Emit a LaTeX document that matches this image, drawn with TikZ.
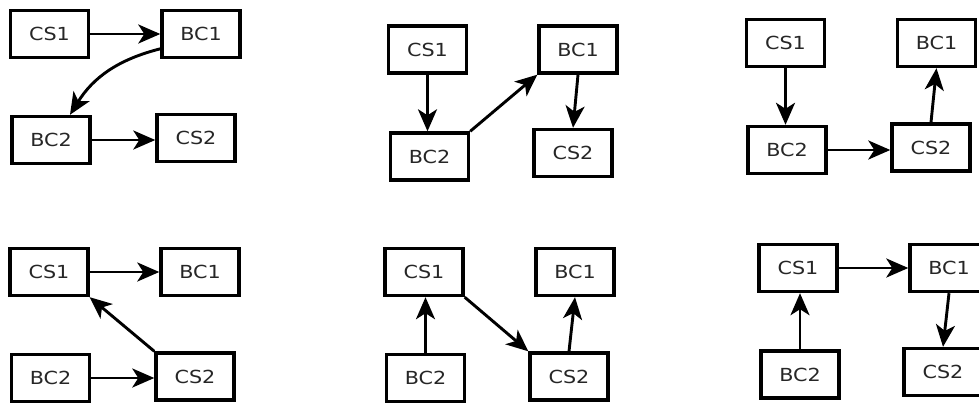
\documentclass[tikz,border=0pt]{standalone}
\usepackage{fontspec}
\setmainfont{DejaVu Sans}[FakeStretch=1.15]
\usetikzlibrary{arrows.meta}
\tikzset{
  box/.style={draw=black, line width=3.4pt, minimum width=78pt, minimum height=47pt,
    inner sep=0pt, font=\fontsize{18}{21}\selectfont, text=black!85},
  arr/.style={line width=2.9pt, -{Stealth[length=22pt,width=19pt,inset=6pt]}},
}
\begin{document}
\begin{tikzpicture}[x=1pt,y=1pt]
\useasboundingbox (0,0) rectangle (979,-405);
\clip (0,0) rectangle (979,-405);
% panel 1
\node[box] (a1) at (49.5,-34) {CS1};
\node[box] (b1) at (201,-34) {BC1};
\node[box] (c1) at (51,-140) {BC2};
\node[box] (d1) at (196,-138) {CS2};
\draw[arr] (a1.east) -- (a1.east -| b1.west);
\draw[arr] (b1.200) to[bend right=22] (c1.53);
\draw[arr] (c1.east) -- (c1.east -| d1.west);
% panel 2
\node[box] (a2) at (427.5,-49.5) {CS1};
\node[box] (b2) at (578,-49.5) {BC1};
\node[box] (c2) at (429.5,-156.5) {BC2};
\node[box] (d2) at (573,-153) {CS2};
\draw[arr] (a2.south) -- (a2.south |- c2.north);
\draw[arr] (c2.north east) -- (b2.south west);
\draw[arr] (b2.south) -- (d2.north);
% panel 3
\node[box] (a3) at (785.5,-43) {CS1};
\node[box] (b3) at (936.5,-43) {BC1};
\node[box] (c3) at (787,-150) {BC2};
\node[box] (d3) at (931,-147.5) {CS2};
\draw[arr] (a3.south) -- (a3.south |- c3.north);
\draw[arr] (c3.east) -- (c3.east -| d3.west);
\draw[arr] (d3.north) -- (b3.south);
% panel 4
\node[box] (a4) at (49,-272) {CS1};
\node[box] (b4) at (200,-272) {BC1};
\node[box] (c4) at (50.5,-378) {BC2};
\node[box] (d4) at (195,-376.5) {CS2};
\draw[arr] (a4.east) -- (a4.east -| b4.west);
\draw[arr] (d4.north west) -- (a4.south east);
\draw[arr] (c4.east) -- (c4.east -| d4.west);
% panel 5
\node[box] (a5) at (424,-272) {CS1};
\node[box] (b5) at (575,-272) {BC1};
\node[box] (c5) at (425.5,-378) {BC2};
\node[box] (d5) at (569,-376.5) {CS2};
\draw[arr] (c5.north) -- (c5.north |- a5.south);
\draw[arr] (a5.south east) -- (d5.north west);
\draw[arr] (d5.north) -- (b5.south);
% panel 6
\node[box] (a6) at (798,-268) {CS1};
\node[box] (b6) at (949,-268) {BC1};
\node[box] (c6) at (800,-374.5) {BC2};
\node[box] (d6) at (943,-372) {CS2};
\draw[arr] (a6.east) -- (a6.east -| b6.west);
\draw[arr] (c6.north) -- (c6.north |- a6.south);
\draw[arr] (b6.south) -- (d6.north);
\end{tikzpicture}
\end{document}
